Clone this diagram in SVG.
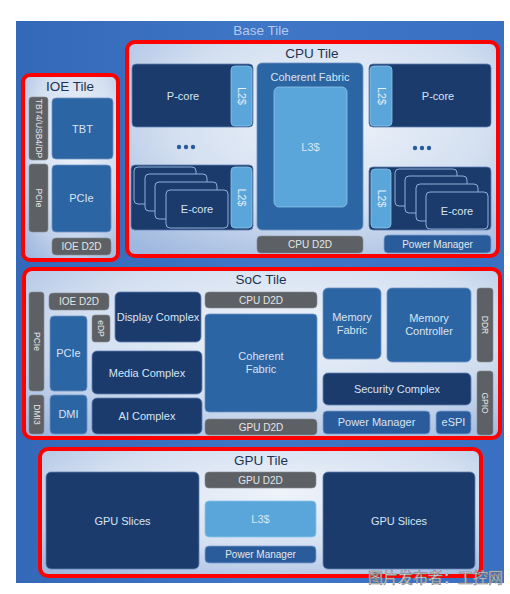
<svg xmlns="http://www.w3.org/2000/svg" width="510" height="594" viewBox="0 0 510 594">
<defs>
<linearGradient id="gBase" x1="0" y1="0" x2="1" y2="0">
<stop offset="0" stop-color="#3468b8"/><stop offset="0.5" stop-color="#3f76c6"/><stop offset="1" stop-color="#3a70c2"/>
</linearGradient>
<radialGradient id="gPanel" cx="0.55" cy="0.35" r="0.8">
<stop offset="0" stop-color="#eef3fa"/><stop offset="0.55" stop-color="#d3dff0"/><stop offset="1" stop-color="#9fb8df"/>
</radialGradient>
<style>
.tile{fill:url(#gPanel);stroke:#ff0000;stroke-width:4}
.title{font-family:"Liberation Sans",Arial,sans-serif;font-size:13.5px;fill:#1e3350;text-anchor:middle}
.dark{fill:#1b3b6d;stroke:#5f82b4;stroke-width:0.8}
.med{fill:#2c65a4;stroke:#6d93c4;stroke-width:0.8}
.pm{fill:#2a5c9c;stroke:#7da0cf;stroke-width:0.8}
.light{fill:#5aa6da;stroke:#8cc4ea;stroke-width:0.8}
.gray{fill:#5d6166;stroke:#878b90;stroke-width:0.6}
.card{fill:#1b3b6d;stroke:#8fb0d8;stroke-width:1}
.t{font-family:"Liberation Sans",Arial,sans-serif;font-size:11px;fill:#d8e4f2;text-anchor:middle}
.tg{font-family:"Liberation Sans",Arial,sans-serif;font-size:10px;fill:#e4e6e8;text-anchor:middle}
.tv{font-family:"Liberation Sans",Arial,sans-serif;font-size:8.5px;fill:#e4e6e8;text-anchor:middle}
.tl{font-family:"Liberation Sans",Arial,sans-serif;font-size:10.5px;fill:#e6f0fa;text-anchor:middle}
.dot{fill:#2a5c9c}
</style>
</defs>
<rect width="510" height="594" fill="#ffffff"/>
<g id="base-tile">
<rect x="16" y="21" width="488" height="562" fill="url(#gBase)"/>
<text x="261" y="35" font-family="'Liberation Sans',Arial,sans-serif" font-size="13.5" fill="#b4c9ec" text-anchor="middle">Base Tile</text>
</g>

<g id="ioe-tile">
<rect class="tile" x="23" y="75" width="95" height="185" rx="7"/>
<text class="title" x="70" y="91">IOE Tile</text>
<g id="ioe-tbt4"><rect class="gray" x="29" y="97" width="19" height="63" rx="3"/><text class="tv" transform="translate(38.5,128.5) rotate(90)" y="3">TBT4/USB4/DP</text></g>
<g id="ioe-tbt"><rect class="med" x="52" y="98" width="61" height="61" rx="4"/><text class="t" x="82.5" y="133">TBT</text></g>
<g id="ioe-pcie-bar"><rect class="gray" x="29" y="164" width="19" height="68" rx="3"/><text class="tv" transform="translate(38.5,198) rotate(90)" y="3">PCIe</text></g>
<g id="ioe-pcie"><rect class="med" x="52" y="165" width="59" height="67" rx="4"/><text class="t" x="81.5" y="202">PCIe</text></g>
<g id="ioe-d2d"><rect class="gray" x="52" y="238" width="59" height="17" rx="4"/><text class="tg" x="81.5" y="250">IOE D2D</text></g>
</g>

<g id="cpu-tile">
<rect class="tile" x="127" y="42" width="371" height="214" rx="8"/>
<text class="title" x="312" y="58">CPU Tile</text>
<g id="cpu-pcore-left"><rect class="dark" x="132" y="64" width="121" height="63" rx="4"/><text class="t" x="183" y="100">P-core</text>
<rect class="light" x="231" y="66" width="21" height="60" rx="4"/><text class="tl" transform="translate(241.5,96) rotate(90)" y="3.5">L2$</text></g>
<g id="cpu-dots-left"><circle class="dot" cx="179" cy="147" r="2.2"/><circle class="dot" cx="186" cy="147" r="2.2"/><circle class="dot" cx="193" cy="147" r="2.2"/></g>
<g id="cpu-ecore-left"><rect class="dark" x="131" y="165" width="122" height="65" rx="4"/>
<rect class="card" x="134" y="167" width="62" height="37" rx="4"/>
<rect class="card" x="145" y="174" width="62" height="37" rx="4"/>
<rect class="card" x="155" y="182" width="62" height="37" rx="4"/>
<rect class="card" x="166" y="190" width="62" height="38" rx="4"/>
<text class="t" x="197" y="213">E-core</text>
<rect class="light" x="231" y="167" width="21" height="61" rx="4"/><text class="tl" transform="translate(241.5,197.5) rotate(90)" y="3.5">L2$</text></g>
<g id="cpu-coherent-fabric"><rect class="med" x="257" y="63" width="106" height="167" rx="5"/><text class="t" font-size="10.2" x="310" y="81">Coherent Fabric</text>
<rect class="light" x="274" y="87" width="73" height="120" rx="5"/><text class="t" x="310.5" y="151">L3$</text></g>
<g id="cpu-d2d"><rect class="gray" x="257" y="236" width="106" height="17" rx="4"/><text class="tg" x="310" y="248">CPU D2D</text></g>
<g id="cpu-pcore-right"><rect class="dark" x="369" y="64" width="122" height="63" rx="4"/><text class="t" x="438" y="100">P-core</text>
<rect class="light" x="370" y="66" width="22" height="60" rx="4"/><text class="tl" transform="translate(381,96) rotate(90)" y="3.5">L2$</text></g>
<g id="cpu-dots-right"><circle class="dot" cx="415" cy="148" r="2.2"/><circle class="dot" cx="422" cy="148" r="2.2"/><circle class="dot" cx="429" cy="148" r="2.2"/></g>
<g id="cpu-ecore-right"><rect class="dark" x="369" y="167" width="122" height="63" rx="4"/>
<rect class="light" x="371" y="169" width="20" height="59" rx="4"/><text class="tl" transform="translate(381,198.5) rotate(90)" y="3.5">L2$</text>
<rect class="card" x="395" y="169" width="62" height="37" rx="4"/>
<rect class="card" x="405" y="176" width="62" height="37" rx="4"/>
<rect class="card" x="416" y="184" width="62" height="37" rx="4"/>
<rect class="card" x="426" y="192" width="62" height="37" rx="4"/>
<text class="t" x="457" y="215">E-core</text></g>
<g id="cpu-power-manager"><rect class="pm" x="384" y="235" width="107" height="18" rx="4"/><text class="tg" x="437.5" y="248">Power Manager</text></g>
</g>

<g id="soc-tile">
<rect class="tile" x="24" y="269" width="476" height="169" rx="8"/>
<text class="title" x="261" y="284">SoC Tile</text>
<g id="soc-pcie-bar"><rect class="gray" x="29" y="292" width="15" height="99" rx="3"/><text class="tv" transform="translate(36.5,341.5) rotate(90)" y="3">PCIe</text></g>
<g id="soc-dmi3"><rect class="gray" x="29" y="395" width="15" height="39" rx="3"/><text class="tv" transform="translate(36.5,414.5) rotate(90)" y="3">DMI3</text></g>
<g id="soc-ioe-d2d"><rect class="gray" x="49" y="293" width="60" height="17" rx="4"/><text class="tg" x="79" y="305">IOE D2D</text></g>
<g id="soc-pcie"><rect class="med" x="50" y="316" width="37" height="75" rx="4"/><text class="t" x="68.5" y="357">PCIe</text></g>
<g id="soc-edp"><rect class="gray" x="92" y="315" width="18" height="27" rx="3"/><text class="tv" transform="translate(101,328.5) rotate(90)" y="3">eDP</text></g>
<g id="soc-display"><rect class="dark" x="115" y="292" width="86" height="50" rx="5"/><text class="t" x="158" y="321">Display Complex</text></g>
<g id="soc-media"><rect class="dark" x="92" y="351" width="110" height="43" rx="5"/><text class="t" font-size="12" x="147" y="377">Media Complex</text></g>
<g id="soc-dmi"><rect class="med" x="50" y="395" width="37" height="39" rx="4"/><text class="t" x="68.5" y="418">DMI</text></g>
<g id="soc-ai"><rect class="dark" x="92" y="398" width="110" height="36" rx="5"/><text class="t" font-size="12" x="147" y="420">AI Complex</text></g>
<g id="soc-cpu-d2d"><rect class="gray" x="205" y="292" width="112" height="16" rx="4"/><text class="tg" x="261" y="304">CPU D2D</text></g>
<g id="soc-coherent-fabric"><rect class="med" x="205" y="314" width="112" height="98" rx="4"/><text class="t" font-size="10.5" x="261" y="360">Coherent</text><text class="t" font-size="10.5" x="261" y="373">Fabric</text></g>
<g id="soc-gpu-d2d"><rect class="gray" x="205" y="419" width="112" height="16" rx="4"/><text class="tg" x="261" y="431">GPU D2D</text></g>
<g id="soc-memory-fabric"><rect class="med" x="323" y="288" width="58" height="71" rx="5"/><text class="t" font-size="10.5" x="352" y="321">Memory</text><text class="t" font-size="10.5" x="352" y="334">Fabric</text></g>
<g id="soc-memory-controller"><rect class="med" x="387" y="288" width="84" height="74" rx="5"/><text class="t" font-size="10.5" x="429" y="322">Memory</text><text class="t" font-size="10.5" x="429" y="335">Controller</text></g>
<g id="soc-ddr"><rect class="gray" x="477" y="288" width="16" height="74" rx="3"/><text class="tv" transform="translate(485,325) rotate(90)" y="3">DDR</text></g>
<g id="soc-security"><rect class="dark" x="323" y="373" width="148" height="32" rx="5"/><text class="t" font-size="11.5" x="397" y="393">Security Complex</text></g>
<g id="soc-gpio"><rect class="gray" x="477" y="371" width="16" height="64" rx="3"/><text class="tv" transform="translate(485,403) rotate(90)" y="3">GPIO</text></g>
<g id="soc-power-manager"><rect class="pm" x="323" y="411" width="107" height="23" rx="4"/><text class="t" font-size="10.5" x="376.5" y="426">Power Manager</text></g>
<g id="soc-espi"><rect class="pm" x="436" y="411" width="35" height="23" rx="4"/><text class="t" font-size="10.5" x="453.5" y="426">eSPI</text></g>
</g>

<g id="gpu-tile">
<rect class="tile" x="40" y="449" width="441" height="127" rx="8"/>
<text class="title" x="261" y="465">GPU Tile</text>
<g id="gpu-slices-left"><rect class="dark" x="46" y="472" width="153" height="97" rx="5"/><text class="t" x="122.5" y="525">GPU Slices</text></g>
<g id="gpu-d2d"><rect class="gray" x="205" y="472" width="111" height="16" rx="4"/><text class="tg" x="260.5" y="484">GPU D2D</text></g>
<g id="gpu-l3"><rect class="light" x="205" y="501" width="111" height="36" rx="4"/><text class="t" x="260.5" y="523">L3$</text></g>
<g id="gpu-power-manager"><rect class="pm" x="205" y="546" width="111" height="17" rx="4"/><text class="tg" x="260.5" y="558">Power Manager</text></g>
<g id="gpu-slices-right"><rect class="dark" x="323" y="472" width="152" height="97" rx="5"/><text class="t" x="399" y="525">GPU Slices</text></g>
</g>

<text x="368" y="583" font-family="'Noto Sans CJK SC',sans-serif" font-size="15" fill="#f4f4f4" stroke="#7a7a7a" stroke-width="0.6">图片发布者：工控网</text>
</svg>
